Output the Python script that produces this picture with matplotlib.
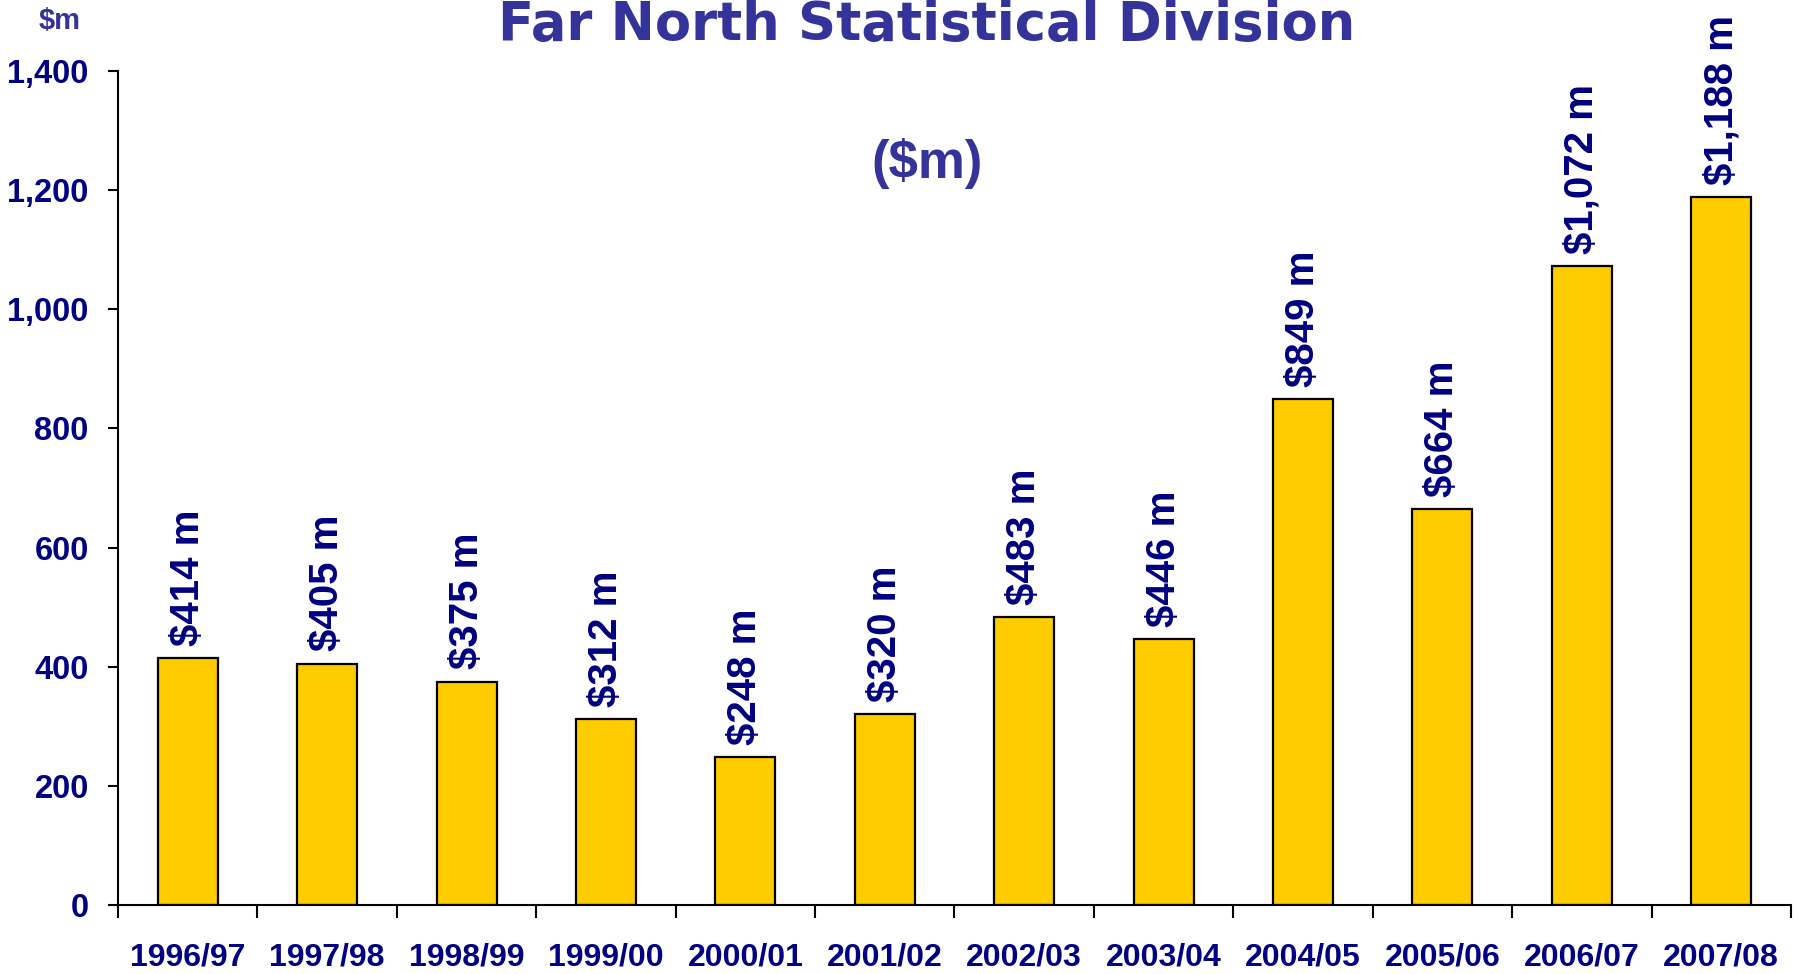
import matplotlib
matplotlib.use("Agg")
import matplotlib.pyplot as plt
import numpy as np

# data
#------------------------------
years = ["1996/97", "1997/98", "1998/99", "1999/00", "2000/01", "2001/02",
         "2002/03", "2003/04", "2004/05", "2005/06", "2006/07", "2007/08"]
values = [414, 405, 375, 312, 248, 320, 483, 446, 849, 664, 1072, 1188]
yticks = [0, 200, 400, 600, 800, 1000, 1200, 1400]
#------------------------------

navy = "#000080"
title_blue = "#333399"
arial = ["Liberation Sans", "DejaVu Sans"]

fig = plt.figure(figsize=(17.99, 9.74), dpi=100)
ax = fig.add_axes([118 / 1799, 1 - 905 / 974, (1791 - 118) / 1799, (905 - 71) / 974])

x = np.arange(len(years))
bars = ax.bar(x, values, width=0.43, color="#FFCC00", edgecolor="black", linewidth=1.6)
ax.bar_label(bars, labels=[f"${v:,} m" for v in values], padding=9, rotation=90,
             color=navy, fontsize=29, fontweight="bold", family=arial)

ax.set_xlim(-0.5, len(years) - 0.5)
ax.set_ylim(0, 1400)
ax.spines["top"].set_visible(False)
ax.spines["right"].set_visible(False)
ax.spines["left"].set_linewidth(1.5)
ax.spines["bottom"].set_linewidth(1.5)

ax.set_yticks(yticks)
ax.set_yticklabels([f"{t:,}" for t in yticks], color=navy, fontsize=23.5,
                   fontweight="bold", family=arial)
ax.tick_params(axis="y", length=7, width=1.5, pad=14)

ax.set_xticks(x)
ax.set_xticklabels(years, color=navy, fontsize=23, fontweight="bold", family=arial)
ax.set_xticks(np.arange(len(years) + 1) - 0.5, minor=True)
ax.tick_params(axis="x", which="major", length=0, pad=27)
ax.tick_params(axis="x", which="minor", length=9, width=1.5)

fig.text(927 / 1799, 1 - 40 / 974, "Far North Statistical Division", ha="center",
         va="baseline", fontsize=38, fontweight="bold", color=title_blue)
fig.text(927 / 1799, 1 - 163 / 974, "($m)", ha="center", va="center",
         fontsize=38, fontweight="bold", color=title_blue, family=arial)
fig.text(60 / 1799, 1 - 21 / 974, "$m", ha="center", va="center",
         fontsize=21, fontweight="bold", color=title_blue, family=arial)

fig.savefig("out.png", dpi=100)
